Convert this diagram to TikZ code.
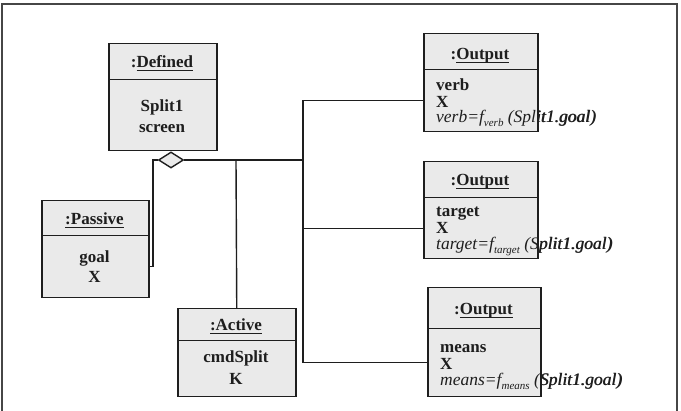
\documentclass[tikz,border=0pt]{standalone}
\usepackage{fontspec}
\setmainfont{Liberation Serif}
\usetikzlibrary{shapes.geometric}
\definecolor{boxgray}{RGB}{234,234,234}
\definecolor{framegray}{RGB}{70,70,70}
\definecolor{ink}{RGB}{30,30,30}
\newcommand{\mysub}[1]{\raisebox{-3.5pt}{\fontsize{11}{11}\selectfont #1}}
\newcommand{\myul}[1]{\setbox0\hbox{#1}\rlap{\rule[-2.6pt]{\wd0}{1pt}}\box0}
\tikzset{
 umlbox/.style={draw=ink, fill=boxgray, line width=1.5pt, inner sep=0pt, anchor=north west},
 lbl/.style={inner sep=0pt, anchor=base, font=\fontsize{17}{20}\selectfont\bfseries, text=ink},
 lbll/.style={lbl, anchor=base west},
 ital/.style={inner sep=0pt, anchor=base west, font=\fontsize{17.5}{20}\selectfont\itshape, text=ink},
 conn/.style={draw=ink, line width=1.4pt},
}
\begin{document}
\begin{tikzpicture}[x=1pt,y=-1pt]
\useasboundingbox (0,0) rectangle (681,411);
\draw[framegray, line width=2pt] (2,413) -- (2,4) -- (677,4) -- (677,413);

% Defined
\node[umlbox, minimum width=108pt, minimum height=36pt] (dh) at (108,43) {};
\node[umlbox, minimum width=108pt, minimum height=71pt] (db) at (108,79) {};
\node[lbl] (dht) at (162,68) {:\myul{Defined}};
\node[lbl] (db1) at (162,112) {Split1};
\node[lbl] (db2) at (162,133) {screen};

% Passive
\node[umlbox, minimum width=107pt, minimum height=35pt] (ph) at (41,200) {};
\node[umlbox, minimum width=107pt, minimum height=62pt] (pb) at (41,235) {};
\node[lbl] (pht) at (94.5,225) {\myul{:Passive}};
\node[lbl] (pb1) at (94.5,263) {goal};
\node[lbl] (pb2) at (94.5,283) {X};

% Active
\node[umlbox, minimum width=118pt, minimum height=32pt] (ah) at (177,308) {};
\node[umlbox, minimum width=118pt, minimum height=56pt] (ab) at (177,340) {};
\node[lbl] (aht) at (236,331) {\myul{:Active}};
\node[lbl] (ab1) at (236,363) {cmdSplit};
\node[lbl] (ab2) at (236,385) {K};

% Output 1
\node[umlbox, minimum width=114pt, minimum height=36pt] (o1h) at (423,33) {};
\node[umlbox, minimum width=114pt, minimum height=62pt] (o1b) at (423,69) {};
\node[lbl] (o1ht) at (480,60) {:\myul{Output}};
\node[lbll] (o1a) at (436,91) {verb};
\node[lbll] (o1x) at (436,108) {X};
\node[ital] (o1f) at (436,123) {verb=f\mysub{verb} (Split1.goal)};
\begin{scope}
\clip (538,100) rectangle (681,135);
\node[ital, xshift=0.6pt] (o1fb) at (436,123) {verb=f\mysub{verb} (Split1.goal)};
\end{scope}

% Output 2
\node[umlbox, minimum width=114pt, minimum height=36pt] (o2h) at (423,161) {};
\node[umlbox, minimum width=114pt, minimum height=61pt] (o2b) at (423,197) {};
\node[lbl] (o2ht) at (480,186) {:\myul{Output}};
\node[lbll] (o2a) at (436,217) {target};
\node[lbll] (o2x) at (436,234) {X};
\node[ital] (o2f) at (436,250) {target=f\mysub{target} (Split1.goal)};
\begin{scope}
\clip (538,225) rectangle (681,262);
\node[ital, xshift=0.6pt] (o2fb) at (436,250) {target=f\mysub{target} (Split1.goal)};
\end{scope}

% Output 3
\node[umlbox, minimum width=113pt, minimum height=41pt] (o3h) at (427,287) {};
\node[umlbox, minimum width=113pt, minimum height=68pt] (o3b) at (427,328) {};
\node[lbl] (o3ht) at (483.5,315) {:\myul{Output}};
\node[lbll] (o3a) at (440,353) {means};
\node[lbll] (o3x) at (440,370) {X};
\node[ital] (o3f) at (440,386) {means=f\mysub{means} (Split1.goal)};
\begin{scope}
\clip (541,360) rectangle (681,398);
\node[ital, xshift=0.6pt] (o3fb) at (440,386) {means=f\mysub{means} (Split1.goal)};
\end{scope}

% aggregation diamond and connectors
\node[diamond, draw=ink, fill=boxgray, line width=1.4pt, minimum width=25pt, minimum height=16pt, inner sep=0pt] (dia) at (171,160) {};
\coordinate (ja) at (236,160);
\coordinate (jo) at (303,160);
\draw[conn] (dia.east) -- (ja) -- (jo);
\draw[conn] (ja) -- (ah.north);
\draw[conn] (jo) |- (o1b.west);
\draw[conn] (jo) |- (o2b.west);
\draw[conn] (jo) |- (o3b.west);
\coordinate (jp) at (153,160);
\draw[conn] (dia.west) -- (jp) |- (pb.east);
\end{tikzpicture}
\end{document}
